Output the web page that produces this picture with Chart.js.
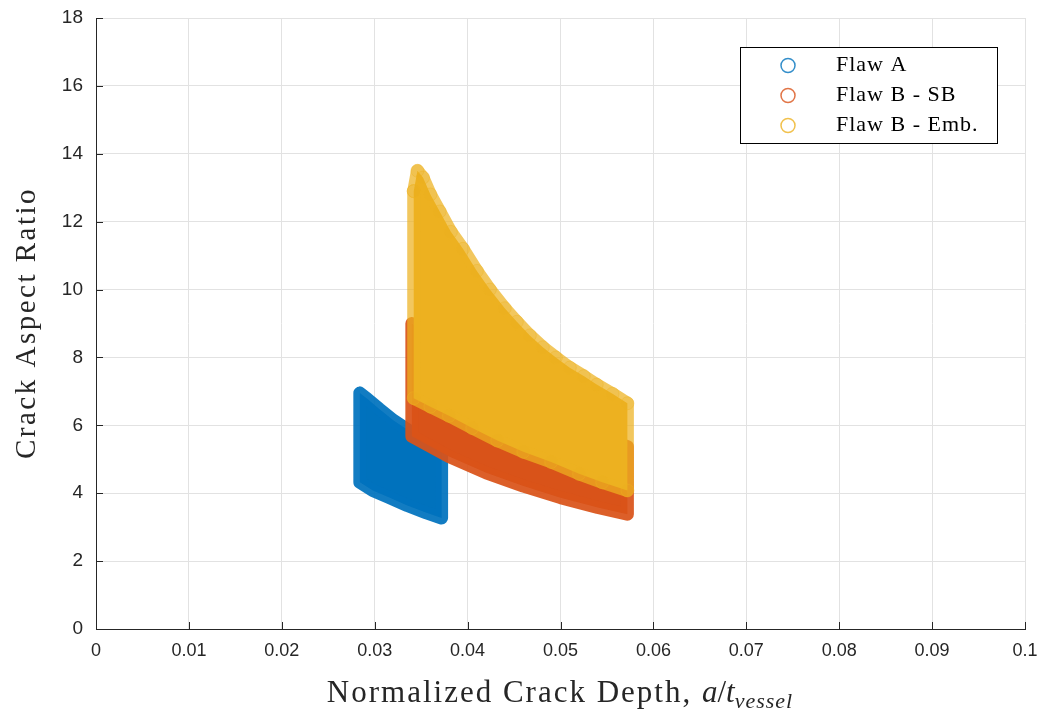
<!DOCTYPE html>
<html>
<head>
<meta charset="utf-8">
<title>Crack aspect ratio vs normalized depth</title>
<script src="https://cdn.jsdelivr.net/npm/chart.js@4.4.1/dist/chart.umd.min.js"></script>
<style>
  html, body { margin: 0; padding: 0; background: #fff; }
  #wrap { position: relative; width: 1044px; height: 711px; }
</style>
</head>
<body>
<div id="wrap"><canvas id="flawChart"></canvas></div>
<script>
// Outline of each sampled flaw population (a/t, aspect ratio), traced clockwise
const flawADepth = [0.0284, 0.0292, 0.0305, 0.0320, 0.0335, 0.0350, 0.0372,
                    0.0372, 0.0355, 0.0335, 0.0315, 0.0298, 0.0284];
const flawARatio = [6.95, 6.78, 6.48, 6.15, 5.88, 5.62, 5.28,
                    3.27, 3.43, 3.64, 3.88, 4.08, 4.32];

const flawBsbDepth = [0.0340, 0.0370, 0.0400, 0.0450, 0.0500, 0.0540, 0.0572,
                      0.0572, 0.0540, 0.0500, 0.0460, 0.0420, 0.0380, 0.0340];
const flawBsbRatio = [9.0, 8.3, 7.65, 6.8, 6.12, 5.68, 5.37,
                      3.38, 3.58, 3.87, 4.21, 4.60, 5.08, 5.68];

const flawBembDepth = [0.0342, 0.0346, 0.0352, 0.0360, 0.0370, 0.0382, 0.0395, 0.0410,
                       0.0424, 0.0440, 0.0453, 0.0467, 0.0481, 0.0495, 0.0510, 0.0525,
                       0.0539, 0.0556, 0.0572,
                       0.0572, 0.0545, 0.0520, 0.0490, 0.0460, 0.0432, 0.0405,
                       0.0380, 0.0360, 0.0342];
const flawBembRatio = [12.9, 13.5, 13.3, 12.8, 12.3, 11.7, 11.2, 10.55,
                       10.0, 9.45, 9.05, 8.65, 8.3, 8.0, 7.7, 7.45,
                       7.2, 6.93, 6.65,
                       4.08, 4.32, 4.57, 4.92, 5.22, 5.55, 5.92,
                       6.28, 6.55, 6.8];

const seriesNames = ["Flaw A", "Flaw B - SB", "Flaw B - Emb."];
const seriesRGB = ["0,114,189", "217,83,25", "237,177,32"];

const xTicks = [0, 0.01, 0.02, 0.03, 0.04, 0.05, 0.06, 0.07, 0.08, 0.09, 0.1];
const yTicks = [0, 2, 4, 6, 8, 10, 12, 14, 16, 18];

const MARKER_R = 6.5;
const INK = "#262626";
const SERIF = '"Liberation Serif", "Times New Roman", serif';
const SANS = '"Liberation Sans", Arial, Helvetica, sans-serif';

// closed polygon from two coordinate lists
function outline(xs, ys) {
  const pts = xs.map((x, i) => ({ x: x, y: ys[i] }));
  pts.push({ x: xs[0], y: ys[0] });
  return pts;
}

function cloud(idx, xs, ys, order, edgeAlpha, rings) {
  const rgb = seriesRGB[idx];
  return {
    label: seriesNames[idx],
    data: outline(xs, ys),
    showLine: true,
    fill: "shape",
    tension: 0,
    backgroundColor: `rgb(${rgb})`,
    borderColor: `rgba(${rgb},${edgeAlpha})`,
    borderWidth: MARKER_R * 2,
    borderJoinStyle: "round",
    borderCapStyle: "round",
    pointRadius: rings ? MARKER_R : 0,
    pointBackgroundColor: `rgba(${rgb},0.2)`,
    pointBorderColor: `rgba(${rgb},0.4)`,
    pointBorderWidth: 1,
    order: order,
  };
}

// inward tick marks on the left and bottom axes
const innerTicks = {
  id: "innerTicks",
  afterDraw(chart) {
    const { ctx, chartArea: a, scales } = chart;
    ctx.save();
    ctx.strokeStyle = INK;
    ctx.lineWidth = 1;
    ctx.beginPath();
    xTicks.forEach((v) => {
      const px = Math.round(scales.x.getPixelForValue(v)) + 0.5;
      ctx.moveTo(px, a.bottom);
      ctx.lineTo(px, a.bottom - 7);
    });
    yTicks.forEach((v) => {
      const py = Math.round(scales.y.getPixelForValue(v)) + 0.5;
      ctx.moveTo(a.left, py);
      ctx.lineTo(a.left + 7, py);
    });
    ctx.stroke();
    ctx.restore();
  },
};

// axis titles, with the a/t_vessel math in the x label
const axisTitles = {
  id: "axisTitles",
  afterDraw(chart) {
    const ctx = chart.ctx;
    ctx.save();
    ctx.fillStyle = INK;
    ctx.textBaseline = "alphabetic";
    ctx.textAlign = "left";

    const parts = [
      { t: "Normalized Crack Depth, ", f: `31px ${SERIF}`, dy: 0, ls: "2px" },
      { t: "a", f: `italic 31px ${SERIF}`, dy: 0, ls: "0px" },
      { t: "/", f: `31px ${SERIF}`, dy: 0, ls: "0px" },
      { t: "t", f: `italic 31px ${SERIF}`, dy: 0, ls: "0px" },
      { t: "vessel", f: `italic 22px ${SERIF}`, dy: 6, ls: "1px" },
    ];
    let total = 0;
    parts.forEach((p) => {
      ctx.font = p.f;
      ctx.letterSpacing = p.ls;
      p.w = ctx.measureText(p.t).width;
      total += p.w;
    });
    let x = 560 - total / 2;
    const base = 702;
    parts.forEach((p) => {
      ctx.font = p.f;
      ctx.letterSpacing = p.ls;
      ctx.fillText(p.t, x, base + p.dy);
      x += p.w;
    });

    ctx.translate(27, 323);
    ctx.rotate(-Math.PI / 2);
    ctx.font = `29px ${SERIF}`;
    ctx.letterSpacing = "2.5px";
    ctx.textAlign = "center";
    ctx.textBaseline = "middle";
    ctx.fillText("Crack Aspect Ratio", 0, 0);
    ctx.restore();
  },
};

// boxed legend in the upper right of the plot
const boxLegend = {
  id: "boxLegend",
  afterDraw(chart) {
    const ctx = chart.ctx;
    const box = { x: 740.5, y: 47.5, w: 257, h: 96 };
    ctx.save();
    ctx.fillStyle = "#fff";
    ctx.fillRect(box.x, box.y, box.w, box.h);
    ctx.strokeStyle = "#000";
    ctx.lineWidth = 1;
    ctx.strokeRect(box.x, box.y, box.w, box.h);
    ctx.font = `22px ${SERIF}`;
    ctx.letterSpacing = "1px";
    ctx.textBaseline = "middle";
    ctx.textAlign = "left";
    chart.data.datasets.forEach((ds, i) => {
      const cy = box.y + 18 + i * 30;
      ctx.beginPath();
      ctx.arc(788, cy, 7, 0, Math.PI * 2);
      ctx.strokeStyle = `rgba(${seriesRGB[i]},0.8)`;
      ctx.lineWidth = 1.5;
      ctx.stroke();
      ctx.fillStyle = "#000";
      ctx.fillText(ds.label, 836, cy);
    });
    ctx.restore();
  },
};

const ctx = document.getElementById("flawChart").getContext("2d");
new Chart(ctx, {
  type: "scatter",
  data: {
    datasets: [
      cloud(0, flawADepth, flawARatio, 3, 0.93, false),
      cloud(1, flawBsbDepth, flawBsbRatio, 2, 0.93, false),
      cloud(2, flawBembDepth, flawBembRatio, 1, 0.72, true),
    ],
  },
  options: {
    responsive: true,
    maintainAspectRatio: false,
    animation: false,
    events: [],
    layout: { padding: { left: 0, top: 18, right: 19, bottom: 0 } },
    plugins: {
      legend: { display: false },
      tooltip: { enabled: false },
    },
    scales: {
      x: {
        type: "linear",
        min: 0,
        max: 0.1,
        afterBuildTicks: (s) => { s.ticks = xTicks.map((v) => ({ value: v })); },
        // fixed axis band; end labels may overhang the plot edges
        afterFit: (s) => { s.height = 82; s.paddingLeft = 0; s.paddingRight = 0; },
        ticks: {
          color: INK,
          padding: 11,
          maxRotation: 0,
          font: { family: SANS, size: 18 },
          callback: (v) => String(+v.toFixed(2)),
        },
        grid: { color: "#e2e2e2", drawTicks: false },
        border: { color: INK, width: 1 },
      },
      y: {
        type: "linear",
        min: 0,
        max: 18,
        afterBuildTicks: (s) => { s.ticks = yTicks.map((v) => ({ value: v })); },
        afterFit: (s) => { s.width = 96; s.paddingTop = 0; s.paddingBottom = 0; },
        ticks: {
          color: INK,
          padding: 13,
          font: { family: SANS, size: 19 },
        },
        grid: { color: "#e2e2e2", drawTicks: false },
        border: { color: INK, width: 1 },
      },
    },
  },
  plugins: [innerTicks, axisTitles, boxLegend],
});
</script>
</body>
</html>
